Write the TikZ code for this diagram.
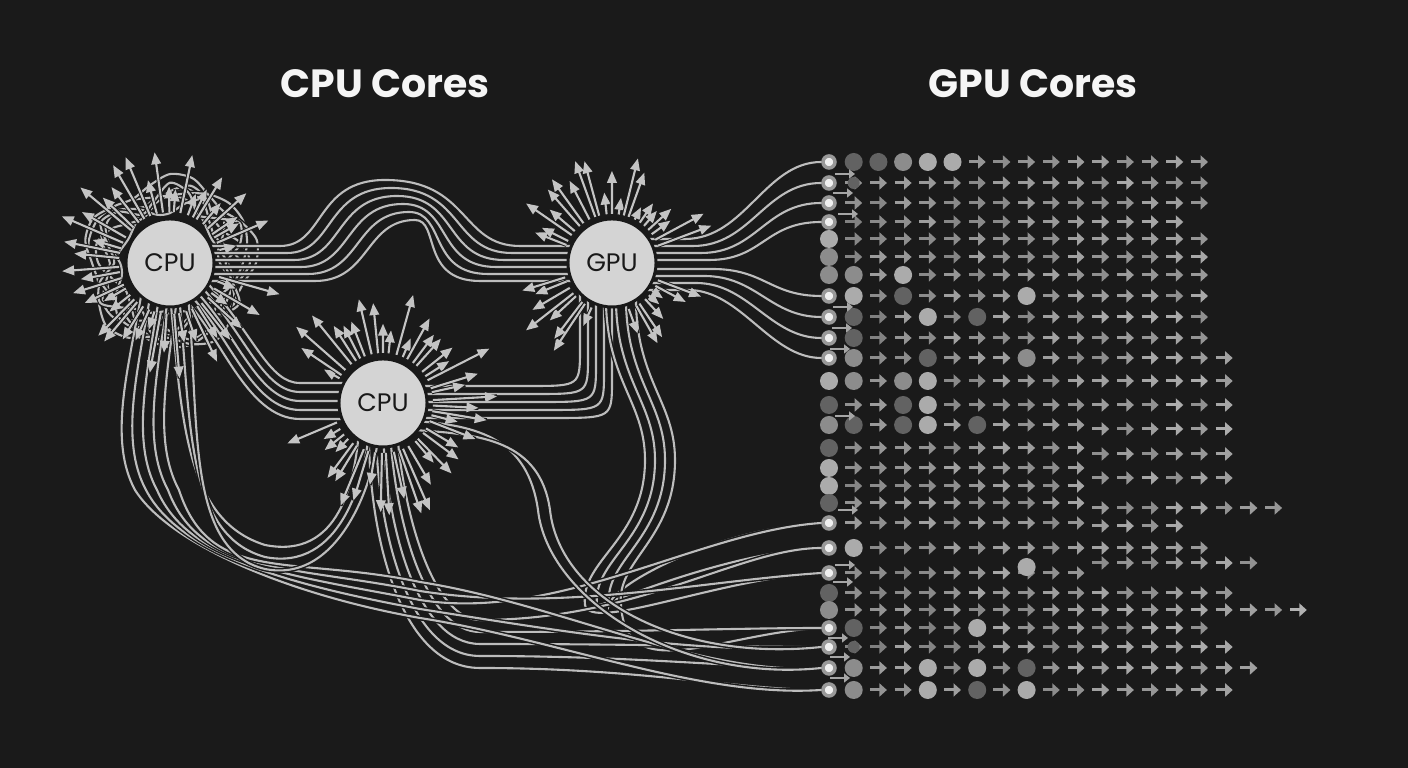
\documentclass[tikz,border=0pt]{standalone}
\usepackage{fontspec}
\newfontfamily\poppins{Poppins}
\usetikzlibrary{arrows.meta,calc}
\pgfdeclarelayer{bgl}\pgfdeclarelayer{wires}\pgfsetlayers{bgl,wires,main}
\definecolor{bgc}{HTML}{1A1A1A}
\definecolor{wirec}{HTML}{BDBDBD}
\definecolor{rayc}{HTML}{C4C4C4}
\definecolor{corefill}{HTML}{D4D4D4}
\definecolor{cL}{HTML}{ABABAB}
\definecolor{cM}{HTML}{8C8C8C}
\definecolor{cD}{HTML}{626262}
\tikzset{
  title/.style={font=\poppins\bfseries\fontsize{11.2}{13}\selectfont, text=white!96!black, anchor=base, inner sep=0},
  core/.style={circle, minimum size=0.88cm, inner sep=0, fill=corefill, draw=black!90, line width=0.03cm,
    font=\poppins\fontsize{7.2}{8}\selectfont, text=black!90},
  ray/.style={draw=rayc, line width=0.021cm, -{Triangle[length=0.12cm,width=0.095cm]},
    preaction={draw=bgc, line width=0.04cm, arrows=-}},
  wire/.style={draw=wirec, line width=0.021cm, line cap=round, preaction={draw=bgc, line width=0.05cm}},
  garrow/.style={line width=0.03cm, -{Triangle[length=0.075cm,width=0.13cm]}},
  sarrow/.style={draw=black!35!white, line width=0.02cm, -{Triangle[length=0.06cm,width=0.09cm]}},
  dotbase/.style={circle, inner sep=0, minimum size=0.18cm, draw=none},
  dotL/.style={dotbase, fill=cL},
  dotM/.style={dotbase, fill=cM},
  dotD/.style={dotbase, fill=cD},
  dotS/.style={dotbase, fill=cD, minimum size=0.12cm},
  ringdot/.style={circle, inner sep=0, minimum size=0.12cm, fill=black!6, draw=black!40!white, line width=0.035cm},
}
\begin{document}
\begin{tikzpicture}[x=0.01cm,y=-0.01cm]
\begin{pgfonlayer}{bgl}
  \fill[bgc] (0,0) rectangle (1408,768);
\end{pgfonlayer}
\useasboundingbox (0,0) rectangle (1408,768);

% titles
\node[title] (t1) at (385,98) {CPU Cores};
\node[title] (t2) at (1033,98) {GPU Cores};

% cores
\node[core] (cpu1) at (170,263) {CPU};
\node[core] (cpu2) at (383,403) {CPU};
\node[core] (gpu)  at (612,263) {GPU};

% grid arrows
\pgfmathsetseed{11}
\foreach \r/\y/\last/\sh in {0/162/15/0, 1/183/15/0, 2/203/15/0, 3/222/14/0, 4/239/15/0, 5/257/15/0,
  6/275/15/0, 7/296/15/0, 8/317/15/0, 9/338/15/0, 10/358/16/0, 11/381/16/0, 12/405/16/0,
  13/425/16/4, 14/448/16/6, 15/468/16/10, 16/486/10/0, 17/503/18/5, 18/523/14/3, 19/548/15/0,
  20/573/17/-10, 21/593/16/0, 22/610/19/0, 23/628/15/0, 24/647/16/0, 25/668/17/0, 26/690/16/0}{
  \foreach \c in {1,...,\last}{
    \pgfmathtruncatemacro\g{50+12*rnd+0.45*\c}
    \draw[garrow, draw=white!\g!black] ({829+24.7*\c-8.5},{\y+(\c>10)*\sh}) -- ++(17,0);
  }
}

% first column of dots
\foreach \r/\y/\st in {0/162/ringdot, 1/183/ringdot, 2/203/ringdot, 3/222/ringdot, 4/239/dotL, 5/257/dotM,
  6/275/dotM, 7/296/ringdot, 8/317/ringdot, 9/338/ringdot, 10/358/ringdot, 11/381/dotL, 12/405/dotD,
  13/425/dotM, 14/448/dotD, 15/468/dotL, 16/486/dotL, 17/503/dotD, 18/523/ringdot, 19/548/ringdot,
  20/573/ringdot, 21/593/dotD, 22/610/dotM, 23/628/ringdot, 24/647/ringdot, 25/668/ringdot, 26/690/ringdot}{
  \node[\st] (d\r) at (829,\y) {};
}

% other dots in the grid
\foreach \c/\y/\st in {1/162/dotD, 2/162/dotD, 3/162/dotM, 4/162/dotL, 5/162/dotL, 1/183/dotS,
  1/275/dotM, 3/275/dotL, 1/296/dotL, 3/296/dotD, 8/296/dotL, 1/317/dotD, 4/317/dotL, 6/317/dotD,
  1/338/dotD, 1/358/dotM, 4/358/dotD, 8/358/dotM, 1/381/dotM, 3/381/dotM, 4/381/dotL,
  3/405/dotD, 4/405/dotL, 1/425/dotD, 3/425/dotD, 4/425/dotL, 6/425/dotD, 1/548/dotL, 8/567/dotL,
  1/628/dotD, 6/628/dotL, 1/647/dotS, 1/668/dotM, 4/668/dotL, 6/668/dotL, 8/668/dotD,
  1/690/dotM, 4/690/dotL, 6/690/dotD, 8/690/dotL}{
  \node[\st] (e\c-\y) at ({829+24.7*\c},\y) {};
}

% small stray arrows between the first columns
\foreach \x/\y in {845/174, 843/193, 848/214, 843/307, 842/328, 840/349, 845/416, 848/510,
  845/565, 843/582, 838/638, 840/657, 840/678}{
  \draw[sarrow] ({\x-10},\y) -- ++(20,0);
}

\begin{pgfonlayer}{wires}
% tangled loops around the first CPU
\foreach \R/\A/\f/\p in {58/10/3/0, 64/12/4/40, 70/10/5/100, 76/9/3/200, 62/14/4/300, 82/8/5/150, 68/13/6/250}{
  \draw[wire] plot[smooth cycle, domain=0:345, samples=24, variable=\t]
    ({170+(\R+\A*sin(\f*\t+\p))*cos(\t)},{263+(\R+\A*sin(\f*\t+\p))*sin(\t)});
}

% A: CPU -> GPU over the top
\foreach \i in {0,...,5}{
  \pgfmathsetmacro\ya{246+7*\i}
  \draw[wire] ($(cpu1)+(30,{\ya-263})$) -- (280+7*\i,\ya)
    .. controls (325+9*\i,\ya) and (315+10*\i,{180+8*\i}) .. (385+6*\i,{180+8*\i})
    .. controls (470-6*\i,{180+8*\i}) and (460-8*\i,\ya) .. (520-8*\i,\ya)
    -- ($(gpu)+(-30,{\ya-263})$);
}
% B: CPU -> CPU
\foreach \i in {0,...,4}{
  \draw[wire] ($(cpu1)+(10+6*\i,32-4*\i)$) .. controls (220+9*\i,330+2*\i) and (245+6*\i,419-9*\i)
    .. (300,419-9*\i) -- ($(cpu2)+(-30,16-9*\i)$);
}
% C: CPU -> GPU from below
\foreach \i in {0,...,4}{
  \draw[wire] ($(cpu2)+(30,-17+8*\i)$) -- (530+6*\i,386+8*\i)
    .. controls (580+8*\i,386+8*\i) .. (580+8*\i,348+8*\i) -- ($(gpu)+(-32+8*\i,25)$);
}
% D: GPU -> top rows
\foreach \i/\yr in {0/162,1/183,2/203,3/222}{
  \draw[wire] ($(gpu)+(30,-24+7*\i)$) -- (685+8*\i,239+7*\i)
    .. controls (745+6*\i,239+7*\i) and (765,\yr) .. (d\i.west);
}
% E: GPU -> middle rows
\foreach \i/\r/\yr in {0/7/296,1/8/317,2/9/338,3/10/358}{
  \draw[wire] ($(gpu)+(30,6+7*\i)$) -- (712-8*\i,269+7*\i)
    .. controls (765-8*\i,269+7*\i) and (770,\yr) .. (d\r.west);
}
% F: GPU bottom -> down -> lower rows
\foreach \i/\r/\yr in {0/20/573,1/19/548,2/18/523,3/23/628}{
  \draw[wire] ($(gpu)+(-6+10*\i,28)$) .. controls (604+10*\i,380) and (645+10*\i,400) .. (645+10*\i,460)
    .. controls (645+10*\i,540) and (580+12*\i,560) .. (585+12*\i,605)
    .. controls (590+12*\i,{\yr+60}) and (720,{\yr+5}) .. (d\r.west);
}
% G: lower CPU -> down -> bottom rows
\foreach \i/\r/\yr in {0/26/690,1/25/668,2/24/647,3/23/628,4/19/548}{
  \draw[wire] ($(cpu2)+(-14+7*\i,28)$) .. controls (368+9*\i,520) and (395+10*\i,{668-12*\i}) .. (480,{668-12*\i})
    .. controls (640,{668-12*\i}) and (740,\yr) .. (d\r.west);
}
% H: first CPU -> around the left -> bottom rows
\foreach \i/\r/\yr in {0/26/690,1/24/647,2/18/523,3/20/573,4/25/668}{
  \draw[wire] ($(cpu1)+(-28+9*\i,28)$) .. controls (128+10*\i,370) and (108+11*\i,440) .. (135+11*\i,490)
    .. controls (170+10*\i,{545+10*\i}) and (290,{595-10*\i}) .. (420,{618-9*\i})
    .. controls (560,{640-9*\i}) and (700,{\yr+8}) .. (d\r.west);
}
% K: first CPU -> lower CPU from below
\foreach \i in {0,1,2}{
  \draw[wire] ($(cpu1)+(0+9*\i,32)$) .. controls (182+9*\i,420) and (185,{520+15*\i}) .. (265,{545+12*\i})
    .. controls (340,{560+12*\i}) and (355+10*\i,480) .. ($(cpu2)+(-24+10*\i,28)$);
}
% M: lower CPU right -> down -> bottom rows
\foreach \i/\r/\yr in {0/25/668,1/24/647}{
  \draw[wire] ($(cpu2)+(30,18+9*\i)$) .. controls (480,{425+9*\i}) and (528+12*\i,440) .. (538+12*\i,510)
    .. controls (548+12*\i,600) and (680,{\yr+15}) .. (d\r.west);
}

% rays, drawn over the wires
\pgfmathsetseed{5}
\foreach \a in {14,21,...,346}{
  \pgfmathsetmacro\b{\a+4*rnd}
  \pgfmathsetmacro\L{68+50*rnd}
  \draw[ray] ($(cpu1)+(\b:51)$) -- ($(cpu1)+(\b:\L)$);
}
\foreach \a in {-154,-147,...,154}{
  \pgfmathsetmacro\b{\a+4*rnd}
  \pgfmathsetmacro\L{66+54*rnd}
  \draw[ray] ($(cpu2)+(\b:50)$) -- ($(cpu2)+(\b:\L)$);
}
\foreach \a in {18,25,32,39,46,53,60,67,113,120,127,134,141,148,155,162,198,205,212,219,226,233,240,247,254,261,268,275,282,289,296,303,310,317,324,331,338}{
  \pgfmathsetmacro\b{\a+4*rnd}
  \pgfmathsetmacro\L{62+48*rnd}
  \draw[ray] ($(gpu)+(\b:49)$) -- ($(gpu)+(\b:\L)$);
}
\end{pgfonlayer}
\end{tikzpicture}
\end{document}
